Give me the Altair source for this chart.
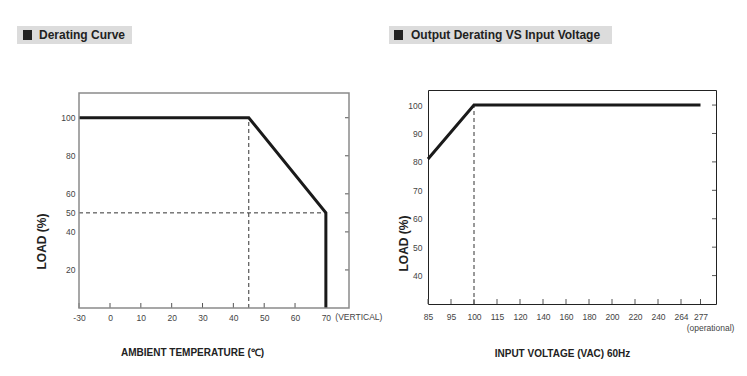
import altair as alt
import pandas as pd

# ---------------- data ----------------
# Derating curve (load vs ambient temperature)
temp_c = [-30, 45, 70, 70]
temp_load = [100, 100, 50, 0]
temp_x_ticks = [-30, 0, 10, 20, 30, 40, 50, 60, 70]
temp_y_ticks = [20, 40, 50, 60, 80, 100]
temp_guide_x = [45, -30]
temp_guide_x2 = [45, 70]
temp_guide_y = [0, 50]
temp_guide_y2 = [100, 50]
temp_note = ["(VERTICAL)"]
temp_note_x = [70]
temp_x_extent = [-30, 77.5]
temp_y_extent = [0, 113]

# Output derating vs input voltage
volt = [85, 100, 277]
volt_load = [81, 100, 100]
volt_x_ticks = [85, 95, 100, 115, 120, 140, 160, 180, 200, 220, 240, 264, 277]
volt_y_ticks = [40, 50, 60, 70, 80, 90, 100]
volt_guide_x = [100]
volt_guide_y = [30]
volt_guide_y2 = [100]
volt_note = ["(operational)"]
volt_note_x = [277]
volt_y_extent = [30, 105.3]

titles = ["Derating Curve", "Output Derating VS Input Voltage"]
x_titles = ["AMBIENT TEMPERATURE (℃)", "INPUT VOLTAGE (VAC) 60Hz"]
y_title = "LOAD (%)"

ARIAL = "Liberation Sans, Arial, sans-serif"
LABEL_COLOR = "#444444"
LABEL_SIZE = 8.5
XTITLE_SIZE = 10

# ---------------- panel 1 ----------------
W1, H1 = 270, 218          # plot frame starts 3px below the group top
xs1 = alt.Scale(domain=[temp_x_extent[0], 0, temp_x_extent[1]], range=[0, 31, W1], nice=False, zero=False)
ys1 = alt.Scale(domain=temp_y_extent, range=[H1, 3], nice=False, zero=False)
xa1 = alt.Axis(values=temp_x_ticks, title=x_titles[0], labelFlush=False, labelOverlap=False,
               labelExpr="'' + datum.value",
               titleX=113, titleY=44, titleBaseline="middle", titleAlign="center",
               titleFont=ARIAL, titleFontSize=XTITLE_SIZE, titleFontWeight="bold", titleColor="#222222",
               labelPadding=5)
ya1 = alt.Axis(values=temp_y_ticks, title=y_title, labelPadding=4,
               titleX=-38, titleY=151, titleAngle=270, titleBaseline="middle", titleAlign="center",
               titleFont=ARIAL, titleFontSize=12, titleFontWeight="bold", titleColor="#222222")

d1 = pd.DataFrame({"t": temp_c, "load": temp_load})
g1 = pd.DataFrame({"x": temp_guide_x, "x2": temp_guide_x2, "y": temp_guide_y, "y2": temp_guide_y2})
tx1 = pd.DataFrame({"v": temp_x_ticks})
ty1 = pd.DataFrame({"v": temp_y_ticks})
n1 = pd.DataFrame({"x": temp_note_x, "t": temp_note})
h1 = pd.DataFrame({"title": [titles[0]]})
f1 = pd.DataFrame({"x": [temp_x_extent[0]], "x2": [temp_x_extent[1]],
                   "y": [temp_y_extent[0]], "y2": [temp_y_extent[1]]})

frame1 = alt.Chart(f1).mark_rect(fill="transparent", stroke="#8a8a8a", strokeWidth=1.5).encode(
    x=alt.X("x:Q", scale=xs1, axis=xa1), x2="x2:Q",
    y=alt.Y("y:Q", scale=ys1, axis=ya1), y2="y2:Q",
)
line1 = alt.Chart(d1).mark_line(color="#1a1a1a", strokeWidth=3).encode(
    x=alt.X("t:Q", scale=xs1, axis=xa1),
    y=alt.Y("load:Q", scale=ys1, axis=ya1),
    order=alt.Order("load:Q", sort="descending"),
)
guides1 = alt.Chart(g1).mark_rule(color="#333333", strokeWidth=1, strokeDash=[4, 3]).encode(
    x=alt.X("x:Q", scale=xs1, axis=xa1), x2="x2:Q",
    y=alt.Y("y:Q", scale=ys1, axis=ya1), y2="y2:Q",
)
btick1 = alt.Chart(tx1).mark_rule(color="#555555", strokeWidth=1).encode(
    x=alt.X("v:Q", scale=xs1, axis=xa1), y=alt.value(H1 - 5), y2=alt.value(H1))
rtick1 = alt.Chart(ty1).mark_rule(color="#555555", strokeWidth=1).encode(
    y=alt.Y("v:Q", scale=ys1, axis=ya1), x=alt.value(W1 - 4), x2=alt.value(W1))
note1 = alt.Chart(n1).mark_text(font=ARIAL, fontSize=LABEL_SIZE, color=LABEL_COLOR, dx=33, baseline="middle").encode(
    x=alt.X("x:Q", scale=xs1, axis=xa1), y=alt.value(H1 + 9), text="t:N")
hbox1 = alt.Chart(h1).mark_rect(color="#dcdcdc").encode(
    x=alt.value(-62), x2=alt.value(53), y=alt.value(-64), y2=alt.value(-46))
hsq1 = alt.Chart(h1).mark_rect(color="#222222").encode(
    x=alt.value(-56), x2=alt.value(-47), y=alt.value(-60), y2=alt.value(-50))
htxt1 = alt.Chart(h1).mark_text(font=ARIAL, fontSize=12, fontWeight="bold", color="#222222",
                                align="left", baseline="middle").encode(
    x=alt.value(-40), y=alt.value(-55), text="title:N")

panel1 = alt.layer(hbox1, hsq1, htxt1, guides1, btick1, rtick1, line1, frame1, note1).properties(
    width=W1, height=H1, view=alt.ViewBackground(strokeWidth=0, stroke="transparent"))

# ---------------- panel 2 ----------------
W2, H2 = 288, 214
xs2 = alt.Scale(domain=volt_x_ticks + [292],
                range=[0, 23, 46, 69, 92, 115, 138, 161, 184, 207, 230, 253, 272.5, W2],
                nice=False, zero=False)
ys2 = alt.Scale(domain=volt_y_extent, nice=False, zero=False)
xa2 = alt.Axis(values=volt_x_ticks, title=x_titles[1], labelFlush=False, labelOverlap=False,
               labelExpr="'' + datum.value",
               titleX=134, titleY=49, titleBaseline="middle", titleAlign="center",
               titleFont=ARIAL, titleFontSize=XTITLE_SIZE, titleFontWeight="bold", titleColor="#222222",
               labelPadding=8)
ya2 = alt.Axis(values=volt_y_ticks, title=y_title, labelPadding=6,
               titleX=-25, titleY=153, titleAngle=270, titleBaseline="middle", titleAlign="center",
               titleFont=ARIAL, titleFontSize=12, titleFontWeight="bold", titleColor="#222222")

d2 = pd.DataFrame({"v": volt, "load": volt_load})
g2 = pd.DataFrame({"x": volt_guide_x, "y": volt_guide_y, "y2": volt_guide_y2})
tx2 = pd.DataFrame({"v": volt_x_ticks})
ty2 = pd.DataFrame({"v": volt_y_ticks})
n2 = pd.DataFrame({"x": volt_note_x, "t": volt_note})
h2 = pd.DataFrame({"title": [titles[1]]})

line2 = alt.Chart(d2).mark_line(color="#1a1a1a", strokeWidth=3).encode(
    x=alt.X("v:Q", scale=xs2, axis=xa2),
    y=alt.Y("load:Q", scale=ys2, axis=ya2),
)
guides2 = alt.Chart(g2).mark_rule(color="#333333", strokeWidth=1, strokeDash=[4, 3]).encode(
    x=alt.X("x:Q", scale=xs2, axis=xa2),
    y=alt.Y("y:Q", scale=ys2, axis=ya2), y2="y2:Q",
)
btick2 = alt.Chart(tx2).mark_rule(color="#555555", strokeWidth=1).encode(
    x=alt.X("v:Q", scale=xs2, axis=xa2), y=alt.value(H2 - 5), y2=alt.value(H2))
rtick2 = alt.Chart(ty2).mark_rule(color="#555555", strokeWidth=1).encode(
    y=alt.Y("v:Q", scale=ys2, axis=ya2), x=alt.value(W2 - 4), x2=alt.value(W2))
note2 = alt.Chart(n2).mark_text(font=ARIAL, fontSize=LABEL_SIZE, color=LABEL_COLOR, dx=10, baseline="middle").encode(
    x=alt.X("x:Q", scale=xs2, axis=xa2), y=alt.value(H2 + 24), text="t:N")
hbox2 = alt.Chart(h2).mark_rect(color="#dcdcdc").encode(
    x=alt.value(-39), x2=alt.value(184), y=alt.value(-64), y2=alt.value(-46))
hsq2 = alt.Chart(h2).mark_rect(color="#222222").encode(
    x=alt.value(-34), x2=alt.value(-25), y=alt.value(-60), y2=alt.value(-50))
htxt2 = alt.Chart(h2).mark_text(font=ARIAL, fontSize=12, fontWeight="bold", color="#222222",
                                align="left", baseline="middle").encode(
    x=alt.value(-17), y=alt.value(-55), text="title:N")

panel2 = alt.layer(hbox2, hsq2, htxt2, guides2, btick2, rtick2, line2, note2).properties(
    width=W2, height=H2, view=alt.ViewBackground(stroke="#222222", strokeWidth=1))

chart = alt.hconcat(panel1, panel2, spacing=5).properties(
    padding={"left": 9, "top": 17, "right": 0, "bottom": 0},
    background="white",
).configure_axis(
    domain=False, ticks=False, grid=False,
    labelFont=ARIAL, labelFontSize=LABEL_SIZE, labelColor=LABEL_COLOR,
)

chart.save("out.html", embed_options={"renderer": "svg", "actions": False})
